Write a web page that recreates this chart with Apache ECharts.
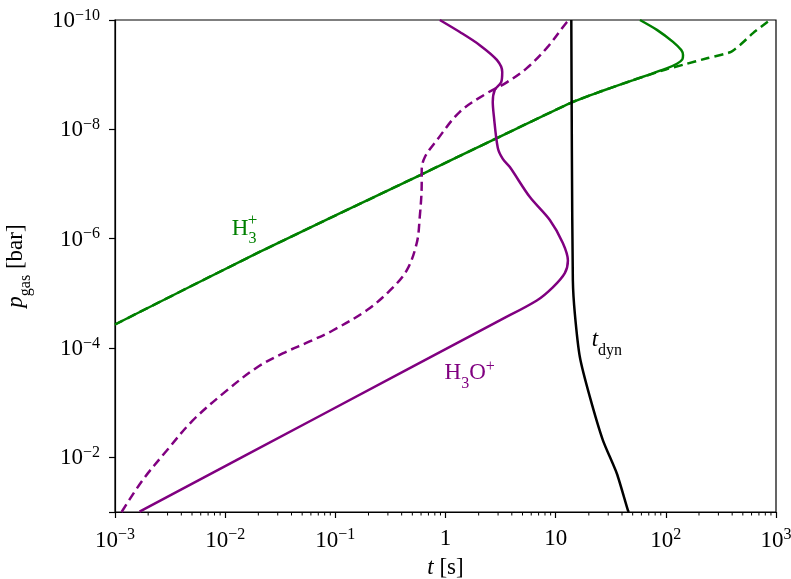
<!DOCTYPE html>
<html>
<head>
<meta charset="utf-8">
<title>p_gas vs t</title>
<script src="https://cdn.jsdelivr.net/npm/echarts@6/dist/echarts.min.js"></script>
<style>
  html, body { margin: 0; padding: 0; background: #fff; }
  #chart { width: 791px; height: 579px; }
</style>
</head>
<body>
<div id="chart"></div>
<script>
// values, kept as log10(t / s) and log10(p / bar)
const h3SolidT = [-3, -1.715, -0.234, 0.466, 1.138, 1.401, 1.704, 2.007, 2.101, 2.150, 2.156, 2.140, 2.065, 1.919, 1.765];
const h3SolidP = [-4.43, -5.73, -7.16, -7.84, -8.485, -8.687, -8.901, -9.115, -9.20, -9.28, -9.36, -9.45, -9.60, -9.82, -10];

const h3DashT = [-3, -1.715, -0.234, 0.466, 1.138, 1.401, 1.704, 2.007, 2.156, 2.374, 2.583, 2.673, 2.791, 2.919, 2.946];
const h3DashP = [-4.43, -5.73, -7.16, -7.84, -8.485, -8.687, -8.901, -9.10, -9.18, -9.30, -9.41, -9.54, -9.76, -9.96, -10];

const h3oSolidT = [-2.777, -1.142, 0.493, 0.829, 0.974, 1.083, 1.111, 1.065, 0.947, 0.766, 0.584, 0.520, 0.475, 0.438, 0.429, 0.447, 0.505, 0.515, 0.466, 0.311, 0.130, -0.052];
const h3oSolidP = [-1.007, -2.756, -4.505, -4.87, -5.11, -5.37, -5.60, -5.92, -6.34, -6.76, -7.31, -7.46, -7.66, -8.26, -8.50, -8.72, -8.86, -9.05, -9.27, -9.54, -9.78, -10];

const h3oDashT = [-2.94, -2.750, -2.532, -2.296, -1.987, -1.715, -1.478, -1.233, -1.024, -0.715, -0.506, -0.352, -0.261, -0.234, -0.216, -0.216, -0.188, -0.079, 0.130, 0.375, 0.556, 0.738, 0.920, 1.101, 1.128];
const h3oDashP = [-1.0, -1.58, -2.12, -2.67, -3.22, -3.64, -3.90, -4.12, -4.32, -4.69, -5.05, -5.42, -5.92, -6.39, -7.01, -7.25, -7.49, -7.80, -8.32, -8.66, -8.86, -9.12, -9.49, -9.96, -10];

const tdynT = [1.142, 1.147, 1.156, 1.174, 1.220, 1.311, 1.429, 1.556, 1.656, 1.665];
const tdynP = [-10, -7.62, -5.24, -4.63, -3.83, -3.10, -2.31, -1.70, -1.03, -1.0];

// log-axis minor ticks on t: 2..9 times each decade
const minorDecades = [-3, -2, -1, 0, 1, 2];
const minorSteps = [2, 3, 4, 5, 6, 7, 8, 9];

const GREEN = '#008000';
const PURPLE = '#800080';
const FONT = 'Liberation Serif';

const chart = echarts.init(document.getElementById('chart'));

const toPairs = (ts, ps) => ts.map((v, i) => [Math.pow(10, v), ps[i]]);
const minus = n => String(n).replace('-', '\u2212');

const minorTicks = [];
minorDecades.forEach(d => minorSteps.forEach(s => minorTicks.push([s * Math.pow(10, d), -1])));

const tickRich = {
  b: { fontFamily: FONT, fontSize: 23, color: '#000', verticalAlign: 'bottom' },
  s: { fontFamily: FONT, fontSize: 16, color: '#000', verticalAlign: 'bottom', padding: [0, 0, 9, 0] }
};

const lineSeries = (name, data, color, dashed, extra) => Object.assign({
  name: name,
  type: 'line',
  data: data,
  showSymbol: false,
  symbol: 'none',
  smooth: 0.25,
  clip: true,
  lineStyle: { color: color, width: 2.5, type: dashed ? [9, 5] : 'solid' },
  z: 3
}, extra || {});

const textMark = (coord, text, color, rich) => ({
  coord: coord,
  symbol: 'circle',
  symbolSize: 0,
  label: {
    show: true,
    position: 'inside',
    formatter: text,
    color: color,
    fontFamily: FONT,
    fontSize: 23,
    rich: rich
  }
});

const subRich = color => ({
  sub: { fontFamily: FONT, fontSize: 16, color: color, verticalAlign: 'bottom' },
  sup: { fontFamily: FONT, fontSize: 16, color: color, verticalAlign: 'bottom', padding: [0, 0, 17, 0] },
  p: { fontFamily: FONT, fontSize: 17, color: color },
  it: { fontFamily: FONT, fontSize: 23, fontStyle: 'italic', color: color, verticalAlign: 'bottom', padding: [0, 0, 7, 0] },
  n: { fontFamily: FONT, fontSize: 23, color: color, verticalAlign: 'bottom', padding: [0, 0, 7, 0] }
});

const option = {
  animation: false,
  backgroundColor: '#fff',
  grid: {
    left: 115, right: 15, top: 20, bottom: 67,
    outerBoundsMode: 'none',
    show: true, borderColor: '#000', borderWidth: 1.2
  },
  xAxis: {
    type: 'log',
    logBase: 10,
    min: 1e-3,
    max: 1e3,
    name: '{it|t} [s]',
    nameLocation: 'middle',
    nameGap: 38,
    nameTextStyle: {
      fontFamily: FONT, fontSize: 23, color: '#000',
      rich: { it: { fontFamily: FONT, fontSize: 23, fontStyle: 'italic', color: '#000' } }
    },
    axisLine: { show: true, lineStyle: { color: '#000', width: 1.2 } },
    axisTick: { show: true, length: 6, lineStyle: { color: '#000', width: 1.2 } },
    splitLine: { show: false },
    axisLabel: {
      margin: 15,
      color: '#000',
      fontFamily: FONT,
      fontSize: 23,
      rich: tickRich,
      formatter: function (v) {
        const e = Math.round(Math.log10(v));
        if (e === 0) return '{b|1}';
        if (e === 1) return '{b|10}';
        return '{b|10}{s|' + minus(e) + '}';
      }
    }
  },
  yAxis: {
    type: 'value',
    inverse: true,
    min: -10,
    max: -1,
    interval: 2,
    name: '{it|p}{sub|gas}{n| [bar]}',
    nameLocation: 'middle',
    nameGap: 81,
    nameRotate: 90,
    nameTextStyle: { fontFamily: FONT, fontSize: 23, color: '#000', rich: subRich('#000') },
    axisLine: { show: true, lineStyle: { color: '#000', width: 1.2 } },
    axisTick: { show: true, length: 6, lineStyle: { color: '#000', width: 1.2 } },
    splitLine: { show: false },
    axisLabel: {
      margin: 15,
      color: '#000',
      fontFamily: FONT,
      fontSize: 23,
      rich: tickRich,
      formatter: function (v) {
        if (Math.round(v) % 2 !== 0) return '';
        return '{b|10}{s|' + minus(v) + '}';
      }
    }
  },
  series: [
    {
      type: 'custom',
      silent: true,
      clip: false,
      z: 5,
      data: minorTicks,
      renderItem: function (params, api) {
        const p = api.coord([api.value(0), api.value(1)]);
        return {
          type: 'line',
          shape: { x1: p[0], y1: p[1], x2: p[0], y2: p[1] + 3.5 },
          style: { stroke: '#000', lineWidth: 1 }
        };
      }
    },
    lineSeries('H3+ dashed', toPairs(h3DashT, h3DashP), GREEN, true, { smooth: 0.2 }),
    lineSeries('H3+', toPairs(h3SolidT, h3SolidP), GREEN, false, {
      smooth: 0.2,
      markPoint: {
        silent: true,
        data: [
          textMark([Math.pow(10, -1.828), -6.12], '{n|H}{sub|3}', GREEN, subRich(GREEN)),
          textMark([Math.pow(10, -1.752), -6.34], '{p|+}', GREEN, subRich(GREEN))
        ]
      }
    }),
    lineSeries('H3O+ dashed', toPairs(h3oDashT, h3oDashP), PURPLE, true, { smooth: 0.35 }),
    lineSeries('H3O+', toPairs(h3oSolidT, h3oSolidP), PURPLE, false, {
      smooth: 0.3,
      markPoint: {
        silent: true,
        data: [textMark([Math.pow(10, 0.220), -3.50], '{n|H}{sub|3}{n|O}{sup|+}', PURPLE, subRich(PURPLE))]
      }
    }),
    lineSeries('t_dyn', toPairs(tdynT, tdynP), '#000', false, {
      smooth: 0.2,
      markPoint: {
        silent: true,
        data: [textMark([Math.pow(10, 1.465), -4.08], '{it|t}{sub|dyn}', '#000', subRich('#000'))]
      }
    })
  ]
};

chart.setOption(option);
</script>
</body>
</html>
